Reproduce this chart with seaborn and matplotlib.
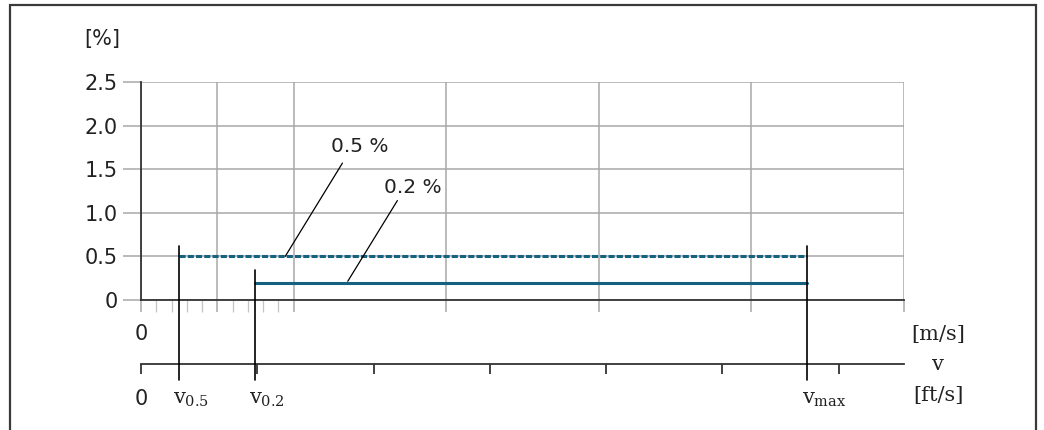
import numpy as np
import pandas as pd
import matplotlib
matplotlib.use('Agg')
import matplotlib.pyplot as plt
import seaborn as sns
from matplotlib.patches import Rectangle

# data (x in m/s, y in %)
y_ticks = [0, 0.5, 1.0, 1.5, 2.0, 2.5]
y_labels = ['0', '0.5', '1.0', '1.5', '2.0', '2.5']
x_grid = [0, 1, 2, 4, 6, 8, 10]
x_minor = [0.2, 0.4, 0.6, 0.8, 1.2, 1.4, 1.6, 1.8]
ft_ticks = [0, 5, 10, 15, 20, 25, 30, 32.81]

v05, v02, vmax = 0.5, 1.5, 8.73
limits = pd.DataFrame({
    'label': ['0.5 %', '0.2 %'],
    'x_start': [v05, v02],
    'x_end': [vmax, vmax],
    'error': [0.5, 0.2],
})

teal = '#14627f'
grid_c = '#a8a8a8'
dark = '#333333'
txt_c = '#222222'

sns.set_theme(style='white')
plt.rcParams['font.family'] = ['DejaVu Sans']
plt.rcParams['mathtext.fontset'] = 'dejavuserif'

W, H = 1044, 430
fig = plt.figure(figsize=(W / 100, H / 100), dpi=100)
# plot area from px x 141..904, y 82..300
ax = fig.add_axes([141 / W, (H - 300) / H, 763 / W, 218 / H])
ax.set_xlim(0, 10)
ax.set_ylim(0, 2.5)

# accuracy limit lines
for _, r in limits.iterrows():
    ls = (0, (2.0, 0.7)) if r['error'] == 0.5 else '-'
    sns.lineplot(x=[r['x_start'], r['x_end']], y=[r['error'], r['error']],
                 ax=ax, color=teal, lw=2.2, linestyle=ls, zorder=4)

# grid
ax.set_yticks(y_ticks)
ax.set_yticklabels(y_labels)
ax.set_xticks(x_grid)
ax.set_xticklabels([])
ax.set_xticks(x_minor, minor=True)
ax.grid(True, which='major', color=grid_c, lw=1.1)
ax.tick_params(axis='y', direction='out', length=13, width=1.1, color=grid_c,
               pad=4, labelsize=15, labelcolor=txt_c, left=True)
ax.tick_params(axis='x', which='both', direction='out', length=8.6, width=1.1,
               color=grid_c, bottom=True)
ax.tick_params(axis='x', which='minor', color='#c4c4c4', width=0.9)
for s in ['top', 'right']:
    ax.spines[s].set_visible(False)
for s in ['left', 'bottom']:
    ax.spines[s].set_color(dark)
    ax.spines[s].set_linewidth(1.3)
    ax.spines[s].set_zorder(5)

# ft/s axis
ms2ft = lambda v: v / 0.3048
ft2ms = lambda v: v * 0.3048
sec = ax.secondary_xaxis(-0.2936, functions=(ms2ft, ft2ms))
sec.set_xticks(ft_ticks)
sec.set_xticklabels([])
sec.tick_params(direction='out', length=7, width=1.3, color=dark)
sec.spines['bottom'].set_color(dark)
sec.spines['bottom'].set_linewidth(1.3)

# velocity marker lines
marker_top = {v05: 0.62, v02: 0.34, vmax: 0.62}
for v, top in marker_top.items():
    ax.plot([v, v], [top, -0.917], color='black', lw=1.2, clip_on=False, zorder=6)

# leader lines and labels
ax.plot([1.89, 2.64], [0.5, 1.57], color='black', lw=0.9, zorder=6)
ax.plot([2.71, 3.36], [0.215, 1.14], color='black', lw=0.9, zorder=6)
ax.text(2.87, 1.65, '0.5 %', fontsize=14.5, color=txt_c, va='bottom', ha='center')
ax.text(3.56, 1.18, '0.2 %', fontsize=14.5, color=txt_c, va='bottom', ha='center')

# axis annotations
serif = 'DejaVu Serif'
ax.text(0.0, -0.39, '0', fontsize=15, ha='center', va='center', color=txt_c)
ax.text(0.0, -1.13, '0', fontsize=15, ha='center', va='center', color=txt_c)
ax.text(v05 - 0.08, -1.13, r'$\mathrm{v}_{0.5}$', fontsize=15, ha='left', va='center', color=txt_c)
ax.text(v02 - 0.085, -1.13, r'$\mathrm{v}_{0.2}$', fontsize=15, ha='left', va='center', color=txt_c)
ax.text(vmax - 0.07, -1.13, r'$\mathrm{v}_{\mathrm{max}}$', fontsize=15, ha='left', va='center',
        color=txt_c)
ax.text(10.45, -0.39, '[m/s]', fontsize=15, family=serif, ha='center', va='center', color=txt_c)
ax.text(10.45, -0.745, 'v', fontsize=15, family=serif, ha='center', va='center', color=txt_c)
ax.text(10.45, -1.1, '[ft/s]', fontsize=15, family=serif, ha='center', va='center', color=txt_c)
fig.text(102 / W, 1 - 39 / H, '[%]', fontsize=15, ha='center', va='center', color=txt_c)

for t in ax.texts:
    t.set_clip_on(False)

# outer frame
fig.add_artist(Rectangle((9.5 / W, -0.05), (1036 - 9.5) / W, 1.05 - 5.5 / H,
                         transform=fig.transFigure, fill=False, ec='#3a3a3a', lw=1.6))

fig.savefig('out.png', dpi=100)
